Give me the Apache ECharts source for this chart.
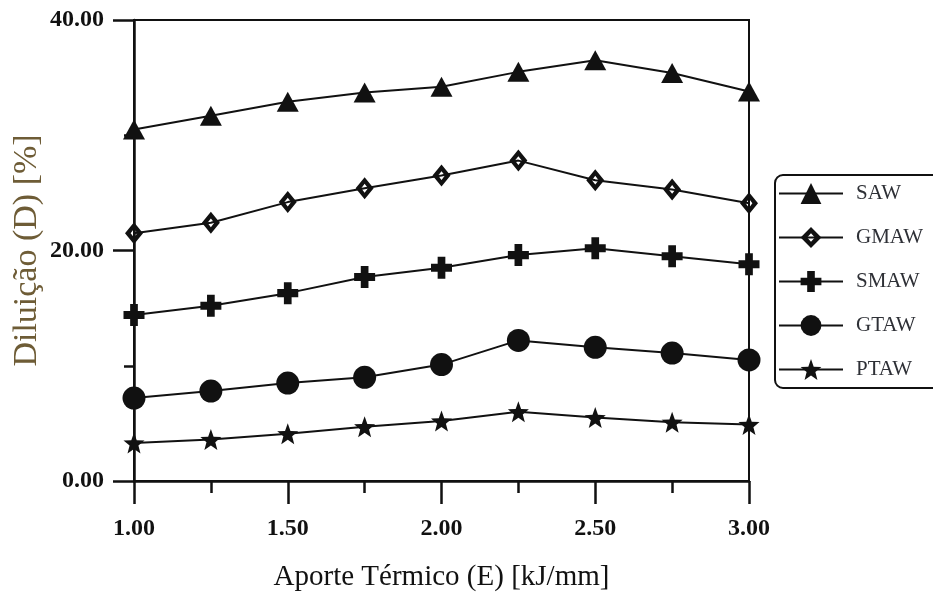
<!DOCTYPE html>
<html>
<head>
<meta charset="utf-8">
<script src="https://cdn.jsdelivr.net/npm/echarts@6/dist/echarts.min.js"></script>
<style>
html,body{margin:0;padding:0;background:#fff;}
#chart{width:933px;height:599px;}
</style>
</head>
<body>
<div id="chart"></div>
<script>
// ---- data ----
const heatInput = [1.00, 1.25, 1.50, 1.75, 2.00, 2.25, 2.50, 2.75, 3.00];
const seriesNames = ['SAW', 'GMAW', 'SMAW', 'GTAW', 'PTAW'];
const sawValues  = [30.5, 31.7, 32.9, 33.7, 34.2, 35.5, 36.5, 35.4, 33.8];
const gmawValues = [21.5, 22.4, 24.2, 25.4, 26.5, 27.8, 26.1, 25.3, 24.1];
const smawValues = [14.4, 15.2, 16.3, 17.7, 18.5, 19.6, 20.2, 19.5, 18.8];
const gtawValues = [7.2, 7.8, 8.5, 9.0, 10.1, 12.2, 11.6, 11.1, 10.5];
const ptawValues = [3.3, 3.6, 4.1, 4.7, 5.2, 6.0, 5.5, 5.1, 4.9];
const yTicks = [0, 20, 40];

// ---- symbol shapes ----
function starPath() {
  const pts = [];
  for (let i = 0; i < 10; i++) {
    const r = i % 2 === 0 ? 10 : 4.2;
    const a = -Math.PI / 2 + i * Math.PI / 5;
    pts.push((r * Math.cos(a)).toFixed(3) + ',' + (r * Math.sin(a)).toFixed(3));
  }
  return 'path://M' + pts.join(' L') + ' Z';
}
const plusPath = 'path://M-1.1,-3 L1.1,-3 L1.1,-1.1 L3,-1.1 L3,1.1 L1.1,1.1 L1.1,3 L-1.1,3 L-1.1,1.1 L-3,1.1 L-3,-1.1 L-1.1,-1.1 Z';
const diamondPath = 'path://M0,-10 L8,0 L0,10 L-8,0 Z M0,-4 L-3,0 L0,4 L3,0 Z';

const symbols = {
  SAW: {symbol: 'triangle', size: [22, 20]},
  GMAW: {symbol: diamondPath, size: [18, 22]},
  SMAW: {symbol: plusPath, size: [21, 22]},
  GTAW: {symbol: 'circle', size: 23},
  PTAW: {symbol: starPath(), size: 21}
};
const valuesByName = {SAW: sawValues, GMAW: gmawValues, SMAW: smawValues, GTAW: gtawValues, PTAW: ptawValues};

const serif = 'Liberation Serif, Times New Roman, serif';

const series = seriesNames.map(name => ({
  name: name,
  type: 'line',
  data: heatInput.map((x, i) => [x, valuesByName[name][i]]),
  symbol: symbols[name].symbol,
  symbolSize: symbols[name].size,
  showAllSymbol: true,
  lineStyle: {color: '#111', width: 2},
  itemStyle: {color: '#111', borderWidth: 0},
  emphasis: {disabled: true},
  animation: false,
  z: 3
}));

const chart = echarts.init(document.getElementById('chart'), null, {renderer: 'canvas'});
chart.setOption({
  backgroundColor: '#fff',
  animation: false,
  grid: {
    left: 134, right: 184, top: 20, bottom: 118,
    containLabel: false, outerBoundsMode: 'none',
    show: true, borderColor: '#111', borderWidth: 2, backgroundColor: 'transparent'
  },
  legend: {
    orient: 'vertical',
    left: 775, top: 175,
    padding: [8, 40, 8, 3],
    itemWidth: 64, itemHeight: 26, itemGap: 23,
    borderColor: '#111', borderWidth: 2, borderRadius: 8,
    textStyle: {fontFamily: serif, fontSize: 21, color: '#2e3036', padding: [0, 0, 0, 8]},
    data: seriesNames
  },
  xAxis: {
    type: 'value', min: 1, max: 3, interval: 0.5,
    name: 'Aporte Térmico (E) [kJ/mm]', nameLocation: 'middle', nameGap: 82,
    nameMoveOverlap: false,
    nameTextStyle: {fontFamily: serif, fontSize: 29, color: '#111'},
    axisLine: {show: true, onZero: false, lineStyle: {color: '#111', width: 2.5}},
    axisTick: {show: true, inside: false, length: 23, lineStyle: {color: '#111', width: 2.5}},
    minorTick: {show: true, splitNumber: 2, length: 12, lineStyle: {color: '#111', width: 2.5}},
    axisLabel: {fontFamily: serif, fontSize: 24, fontWeight: 'bold', color: '#111', margin: 36,
      formatter: v => v.toFixed(2)},
    splitLine: {show: false}
  },
  yAxis: {
    type: 'value', min: yTicks[0], max: yTicks[yTicks.length - 1], interval: yTicks[1] - yTicks[0],
    name: 'Diluição (D) [%]', nameLocation: 'middle', nameGap: 90,
    nameMoveOverlap: false,
    nameTextStyle: {fontFamily: serif, fontSize: 34, color: '#6e5c36'},
    axisLine: {show: true, onZero: false, lineStyle: {color: '#111', width: 2.5}},
    axisTick: {show: true, inside: false, length: 21, lineStyle: {color: '#111', width: 2.5}},
    minorTick: {show: true, splitNumber: 2, length: 10, lineStyle: {color: '#111', width: 2.5}},
    axisLabel: {fontFamily: serif, fontSize: 24, fontWeight: 'bold', color: '#111', margin: 30,
      formatter: v => v.toFixed(2)},
    splitLine: {show: false}
  },
  series: series
});
</script>
</body>
</html>
